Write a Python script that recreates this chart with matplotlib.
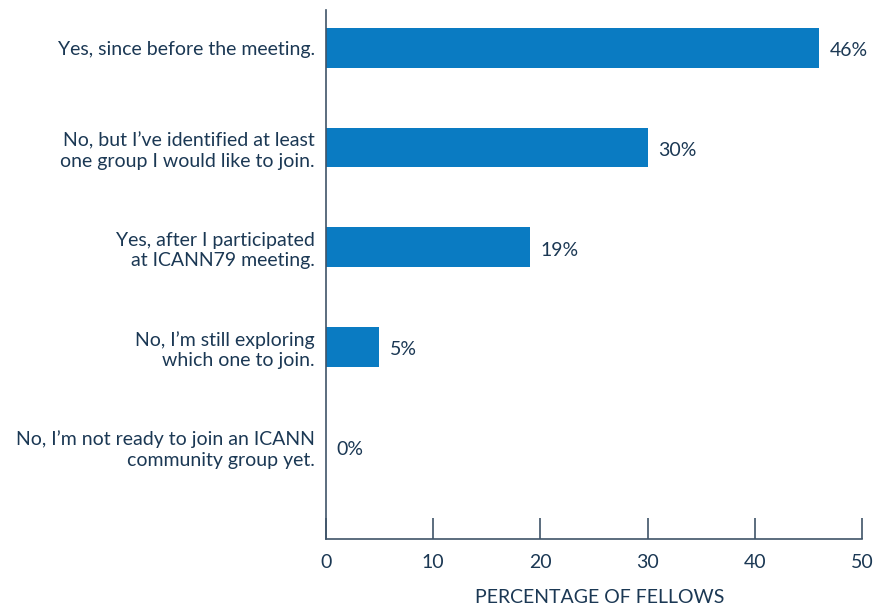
import matplotlib
matplotlib.use("Agg")
import matplotlib.pyplot as plt

categories = [
    "Yes, since before the meeting.",
    "No, but I\u2019ve identified at least\none group I would like to join.",
    "Yes, after I participated\nat ICANN79 meeting.",
    "No, I\u2019m still exploring\nwhich one to join.",
    "No, I\u2019m not ready to join an ICANN\ncommunity group yet.",
]
values = [46, 30, 19, 5, 0]
xticks = [0, 10, 20, 30, 40, 50]

bar_color = "#0a7bc2"
text_color = "#1b3854"
axis_color = "#3f5468"

plt.rcParams["font.family"] = ["Lato", "DejaVu Sans"]
fs = 14

fig = plt.figure(figsize=(8.76, 6.07), dpi=100)
ax = fig.add_axes([0.372, 0.112, 0.612, 0.8715])

ypos = list(range(len(categories)))
ax.barh(ypos, values, height=0.4, color=bar_color)
for y, v in zip(ypos, values):
    ax.text(v + 1.0, y + 0.03, f"{v}%", va="center", ha="left", fontsize=fs, color=text_color)

ax.set_xlim(0, 50)
ax.set_ylim(4.93, -0.38)
ax.set_yticks(ypos)
ax.set_yticklabels(categories, fontsize=fs, color=text_color, linespacing=1.25)
ax.set_xticks(xticks)
ax.set_xticklabels([str(t) for t in xticks], fontsize=fs, color=text_color)
ax.tick_params(axis="y", length=0, pad=8)
ax.tick_params(axis="x", direction="in", length=15, width=1.2, color=axis_color, pad=11)
ax.set_xlabel("PERCENTAGE OF FELLOWS", fontsize=fs, color=text_color, labelpad=9)
ax.xaxis.set_label_coords(0.51, -0.095)

for s in ["top", "right"]:
    ax.spines[s].set_visible(False)
for s in ["left", "bottom"]:
    ax.spines[s].set_color(axis_color)
    ax.spines[s].set_linewidth(1.2)

fig.savefig("out.png", dpi=100)
